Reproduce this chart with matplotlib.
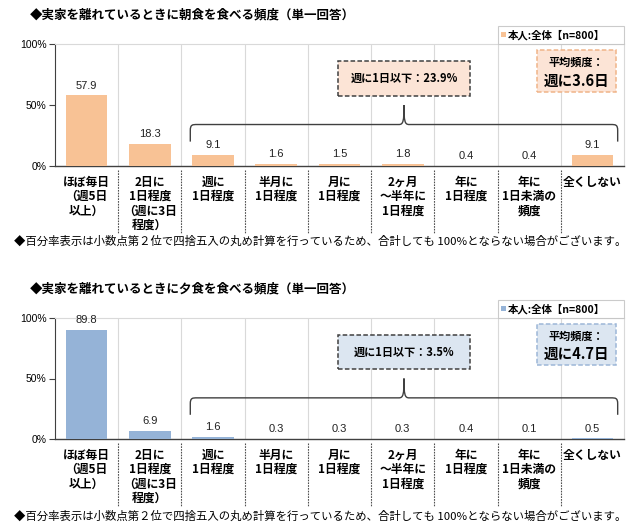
import matplotlib
matplotlib.use("Agg")
import matplotlib.pyplot as plt
from matplotlib.path import Path
from matplotlib.patches import PathPatch, Rectangle
import numpy as np

plt.rcParams["font.family"] = ["Noto Sans CJK JP", "DejaVu Sans"]

# Data
categories = [
    "ほぼ毎日\n（週5日\n以上）",
    "2日に\n1日程度\n（週に3日\n程度）",
    "週に\n1日程度",
    "半月に\n1日程度",
    "月に\n1日程度",
    "2ヶ月\n～半年に\n1日程度",
    "年に\n1日程度",
    "年に\n1日未満の\n頻度",
    "全くしない",
]
breakfast = [57.9, 18.3, 9.1, 1.6, 1.5, 1.8, 0.4, 0.4, 9.1]
dinner = [89.8, 6.9, 1.6, 0.3, 0.3, 0.3, 0.4, 0.1, 0.5]
breakfast_avg = 3.6
dinner_avg = 4.7
low_start = 2  # first category counted as "週に1日以下"

breakfast_title = "◆実家を離れているときに朝食を食べる頻度（単一回答）"
dinner_title = "◆実家を離れているときに夕食を食べる頻度（単一回答）"
note = "◆百分率表示は小数点第２位で四捨五入の丸め計算を行っているため、合計しても 100%とならない場合がございます。"
legend_label = "本人:全体【n=800】"

# Colors
peach = "#F8C295"
peach_fill = "#FCE4D6"
peach_edge = "#F0B489"
blue = "#95B3D7"
blue_fill = "#DCE6F1"
blue_edge = "#9DB7D7"
dark = "#404040"
grid_gray = "#D9D9D9"

fig = plt.figure(figsize=(6.4, 5.27), dpi=100)


def draw_brace(ax, x0, x1, y_end, y_h, y_peak):
    xp = (x0 + x1) / 2
    dx = 0.11
    dp = 0.08
    verts = [
        (x0, y_end), (x0, y_h - 5),
        (x0, y_h), (x0 + dx * 0.3, y_h), (x0 + dx, y_h),
        (xp - dp, y_h),
        (xp - 0.01, y_h), (xp, y_h + 3), (xp, y_peak),
        (xp, y_h + 3), (xp + 0.01, y_h), (xp + dp, y_h),
        (x1 - dx, y_h),
        (x1 - dx * 0.3, y_h), (x1, y_h), (x1, y_h - 5),
        (x1, y_end),
    ]
    codes = [Path.MOVETO, Path.LINETO,
             Path.CURVE4, Path.CURVE4, Path.CURVE4,
             Path.LINETO,
             Path.CURVE4, Path.CURVE4, Path.CURVE4,
             Path.CURVE4, Path.CURVE4, Path.CURVE4,
             Path.LINETO,
             Path.CURVE4, Path.CURVE4, Path.CURVE4,
             Path.LINETO]
    ax.add_patch(PathPatch(Path(verts, codes), fill=False, lw=1.0, ec=dark, zorder=4))
    return xp


def draw_panel(ax, values, color, fill, edge, avg, title, title_y, note_y):
    x = np.arange(len(categories))
    bars = ax.bar(x, values, width=0.66, color=color, zorder=3)

    for rect, v in zip(bars, values):
        ax.annotate(f"{v:.1f}", xy=(rect.get_x() + rect.get_width() / 2, v),
                    xytext=(0, 3.5), textcoords="offset points",
                    ha="center", va="bottom", fontsize=8,
                    family=["Liberation Sans", "DejaVu Sans"], color="#222222")

    ax.set_xlim(-0.5, len(categories) - 0.5)
    ax.set_ylim(0, 100)
    ax.set_yticks([0, 50, 100])
    ax.set_yticklabels(["0%", "50%", "100%"], fontsize=7.5,
                       family=["Liberation Sans", "DejaVu Sans"])
    ax.tick_params(axis="y", length=4, width=0.8, pad=2, color=dark)

    ax.set_xticks(x)
    ax.set_xticklabels(categories, fontsize=8.5, fontweight="bold")
    for lbl in ax.get_xticklabels():
        lbl.set_linespacing(1.15)
    ax.tick_params(axis="x", length=0, pad=7)
    ax.set_xticks(np.arange(0.5, len(categories) - 1, 1.0), minor=True)
    ax.tick_params(axis="x", which="minor", length=0)
    ax.grid(True, axis="x", which="minor", color=grid_gray, lw=0.8, zorder=0)
    ax.grid(False, axis="y")

    for side in ["top", "right"]:
        ax.spines[side].set_color(grid_gray)
    ax.spines["left"].set_color(dark)
    ax.spines["bottom"].set_color(dark)
    ax.spines["bottom"].set_linewidth(1.0)

    # separators under the category labels
    trans = ax.get_xaxis_transform()
    for b in np.arange(0.5, len(categories) - 1, 1.0):
        ax.plot([b, b], [-0.03, -0.55], transform=trans, clip_on=False,
                color="#505050", lw=0.8, ls=(0, (1.5, 1)))

    # legend on top of the plot
    leg = ax.legend([bars], [legend_label], loc="lower left",
                    bbox_to_anchor=(7 / 9, 1.0, 2 / 9, 0.16), mode="expand",
                    borderaxespad=0, frameon=True, fancybox=False,
                    edgecolor="#BFBFBF", fontsize=7.5, handlelength=0.45,
                    handleheight=0.45, handletextpad=0.2, borderpad=0.35)
    leg.get_frame().set_linewidth(0.8)
    for t in leg.get_texts():
        t.set_fontweight("bold")
    leg._legend_box.align = "center"

    # brace over the low-frequency group
    xp = draw_brace(ax, low_start - 0.36, len(categories) - 1 + 0.4, 20, 34, 50)

    low_share = sum(values[low_start:])
    ax.add_patch(Rectangle((xp - 1.04, 57.5), 2.08, 28.5, fc=fill, ec=dark,
                           lw=1.1, ls=(0, (3, 1.5)), zorder=5))
    ax.text(xp, 71.5, f"週に1日以下：{low_share:.1f}%", ha="center", va="center",
            fontsize=8, fontweight="bold", zorder=6)

    ax.add_patch(Rectangle((7.12, 61), 1.25, 34, fc=fill, ec=edge,
                           lw=1.1, ls=(0, (3, 1.5)), zorder=5, clip_on=False))
    ax.text(7.745, 85, "平均頻度：", ha="center", va="center",
            fontsize=8, fontweight="bold", zorder=6)
    ax.text(7.745, 70, f"週に{avg:.1f}日", ha="center", va="center",
            fontsize=10.5, fontweight="bold", zorder=6)

    fig.text(30 / 640, title_y, title, ha="left", va="center",
             fontsize=9, fontweight="bold")
    fig.text(14 / 640, note_y, note, ha="left", va="center", fontsize=8.2)


ax1 = fig.add_axes([55 / 640, 1 - 166 / 527, 569 / 640, 122 / 527])
draw_panel(ax1, breakfast, peach, peach_fill, peach_edge, breakfast_avg,
           breakfast_title, 1 - 15 / 527, 1 - 241 / 527)

ax2 = fig.add_axes([55 / 640, 1 - 439 / 527, 569 / 640, 121 / 527])
draw_panel(ax2, dinner, blue, blue_fill, blue_edge, dinner_avg,
           dinner_title, 1 - 289 / 527, 1 - 516 / 527)

fig.savefig("out.png", dpi=100)
